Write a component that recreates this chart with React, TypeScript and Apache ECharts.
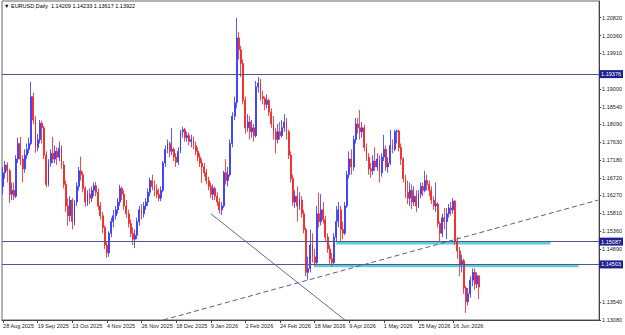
import React, { useEffect, useRef } from "react";
import * as echarts from "echarts";

const symbolTitle = "EURUSD,Daily";
const dateLabels = [
  "28 Aug 2025", "19 Sep 2025", "13 Oct 2025", "4 Nov 2025", "26 Nov 2025",
  "18 Dec 2025", "9 Jan 2026", "2 Feb 2026", "24 Feb 2026", "18 Mar 2026",
  "9 Apr 2026", "1 May 2026", "25 May 2026", "16 Jun 2026",
];
const dateLabelStep = 16;
const totalSlots = 276;
const priceLabels = [
  1.2082, 1.2036, 1.1991, 1.19, 1.1854, 1.1809, 1.1763, 1.1718, 1.1672,
  1.1627, 1.1581, 1.1536, 1.1489, 1.1354, 1.1308,
];
const priceMin = 1.1308;
const priceMax = 1.21248;
const levelLines = [1.19376, 1.15087, 1.14503];
const zones = [
  { from: 154, to: 253, top: 1.15087, bottom: 1.1501 },
  { from: 144, to: 266, top: 1.1451, bottom: 1.1443 },
];
const trendDashed = [[74, 1.1308], [275, 1.1615]];
const trendSolid = [[96, 1.158], [158, 1.1308]];

// [open, high, low, close]
const ohlc = [
  [1.1650, 1.1700, 1.1630, 1.1685], [1.1685, 1.1715, 1.1670, 1.1705], [1.1705, 1.1712, 1.1660, 1.1690],
  [1.1690, 1.1695, 1.1608, 1.1630], [1.1630, 1.1660, 1.1615, 1.1640], [1.1640, 1.1660, 1.1615, 1.1625],
  [1.1625, 1.1730, 1.1620, 1.1720], [1.1720, 1.1775, 1.1710, 1.1760], [1.1760, 1.1777, 1.1705, 1.1720],
  [1.1720, 1.1730, 1.1660, 1.1695], [1.1695, 1.1745, 1.1685, 1.1730], [1.1730, 1.1760, 1.1720, 1.1745],
  [1.1745, 1.1775, 1.1735, 1.1760], [1.1760, 1.1918, 1.1755, 1.1880], [1.1880, 1.1890, 1.1810, 1.1820],
  [1.1820, 1.1830, 1.1736, 1.1750], [1.1750, 1.1785, 1.1740, 1.1770], [1.1770, 1.1820, 1.1760, 1.1812],
  [1.1812, 1.1818, 1.1760, 1.1800], [1.1800, 1.1805, 1.1720, 1.1730], [1.1730, 1.1740, 1.1648, 1.1655],
  [1.1655, 1.1720, 1.1650, 1.1710], [1.1710, 1.1745, 1.1700, 1.1735], [1.1735, 1.1777, 1.1710, 1.1720],
  [1.1720, 1.1755, 1.1710, 1.1740], [1.1740, 1.1750, 1.1705, 1.1725], [1.1725, 1.1765, 1.1715, 1.1748],
  [1.1748, 1.1755, 1.1695, 1.1705], [1.1705, 1.1715, 1.1645, 1.1655], [1.1655, 1.1665, 1.1585, 1.1600],
  [1.1600, 1.1620, 1.1550, 1.1575], [1.1575, 1.1625, 1.1560, 1.1615], [1.1615, 1.1620, 1.1540, 1.1560],
  [1.1560, 1.1615, 1.1550, 1.1610], [1.1610, 1.1660, 1.1600, 1.1650], [1.1650, 1.1700, 1.1640, 1.1690],
  [1.1690, 1.1726, 1.1665, 1.1680], [1.1680, 1.1688, 1.1635, 1.1645], [1.1645, 1.1650, 1.1598, 1.1610],
  [1.1610, 1.1640, 1.1600, 1.1630], [1.1630, 1.1645, 1.1605, 1.1620], [1.1620, 1.1650, 1.1610, 1.1640],
  [1.1640, 1.1660, 1.1625, 1.1652], [1.1652, 1.1662, 1.1625, 1.1635], [1.1635, 1.1645, 1.1590, 1.1600],
  [1.1600, 1.1610, 1.1565, 1.1575], [1.1575, 1.1585, 1.1530, 1.1545], [1.1545, 1.1550, 1.1490, 1.1500],
  [1.1500, 1.1510, 1.1467, 1.1480], [1.1480, 1.1535, 1.1470, 1.1530], [1.1530, 1.1570, 1.1520, 1.1560],
  [1.1560, 1.1590, 1.1545, 1.1575], [1.1575, 1.1600, 1.1565, 1.1590], [1.1590, 1.1620, 1.1580, 1.1610],
  [1.1610, 1.1654, 1.1600, 1.1645], [1.1645, 1.1650, 1.1615, 1.1630], [1.1630, 1.1640, 1.1590, 1.1600],
  [1.1600, 1.1615, 1.1570, 1.1580], [1.1580, 1.1590, 1.1545, 1.1555], [1.1555, 1.1565, 1.1520, 1.1530],
  [1.1530, 1.1545, 1.1500, 1.1515], [1.1515, 1.1540, 1.1492, 1.1525], [1.1525, 1.1570, 1.1515, 1.1560],
  [1.1560, 1.1600, 1.1550, 1.1590], [1.1590, 1.1605, 1.1565, 1.1580], [1.1580, 1.1610, 1.1570, 1.1600],
  [1.1600, 1.1620, 1.1590, 1.1610], [1.1610, 1.1645, 1.1600, 1.1635], [1.1635, 1.1672, 1.1625, 1.1665],
  [1.1665, 1.1680, 1.1640, 1.1650], [1.1650, 1.1665, 1.1625, 1.1640], [1.1640, 1.1655, 1.1620, 1.1630],
  [1.1630, 1.1645, 1.1612, 1.1620], [1.1620, 1.1650, 1.1612, 1.1640], [1.1640, 1.1715, 1.1635, 1.1710],
  [1.1710, 1.1755, 1.1700, 1.1745], [1.1745, 1.1770, 1.1735, 1.1760], [1.1760, 1.1765, 1.1725, 1.1740],
  [1.1740, 1.1800, 1.1730, 1.1745], [1.1745, 1.1750, 1.1715, 1.1725], [1.1725, 1.1735, 1.1700, 1.1712],
  [1.1712, 1.1750, 1.1705, 1.1740], [1.1740, 1.1795, 1.1735, 1.1790], [1.1790, 1.1803, 1.1775, 1.1795],
  [1.1795, 1.1800, 1.1765, 1.1775], [1.1775, 1.1790, 1.1765, 1.1780], [1.1780, 1.1788, 1.1755, 1.1765],
  [1.1765, 1.1782, 1.1750, 1.1770], [1.1770, 1.1778, 1.1745, 1.1755], [1.1755, 1.1765, 1.1730, 1.1740],
  [1.1740, 1.1750, 1.1715, 1.1725], [1.1725, 1.1735, 1.1700, 1.1710], [1.1710, 1.1720, 1.1659, 1.1700],
  [1.1700, 1.1710, 1.1675, 1.1685], [1.1685, 1.1695, 1.1655, 1.1665], [1.1665, 1.1675, 1.1640, 1.1650],
  [1.1650, 1.1660, 1.1620, 1.1630], [1.1630, 1.1655, 1.1615, 1.1645], [1.1645, 1.1650, 1.1615, 1.1625],
  [1.1625, 1.1635, 1.1600, 1.1610], [1.1610, 1.1620, 1.1580, 1.1590], [1.1590, 1.1610, 1.1577, 1.1600],
  [1.1600, 1.1690, 1.1595, 1.1685], [1.1685, 1.1720, 1.1655, 1.1665], [1.1665, 1.1700, 1.1650, 1.1680],
  [1.1680, 1.1770, 1.1675, 1.1760], [1.1760, 1.1840, 1.1750, 1.1830], [1.1830, 1.1880, 1.1820, 1.1865],
  [1.1865, 1.2082, 1.1850, 1.2030], [1.2030, 1.2045, 1.1975, 1.2000], [1.2000, 1.2010, 1.1930, 1.1965],
  [1.1965, 1.1975, 1.1860, 1.1870], [1.1870, 1.1880, 1.1785, 1.1800], [1.1800, 1.1835, 1.1790, 1.1815],
  [1.1815, 1.1830, 1.1770, 1.1790], [1.1790, 1.1820, 1.1775, 1.1800], [1.1800, 1.1810, 1.1765, 1.1780],
  [1.1780, 1.1920, 1.1775, 1.1905], [1.1905, 1.1930, 1.1890, 1.1915], [1.1915, 1.1925, 1.1870, 1.1880],
  [1.1880, 1.1895, 1.1860, 1.1875], [1.1875, 1.1880, 1.1845, 1.1860], [1.1860, 1.1885, 1.1850, 1.1870],
  [1.1870, 1.1875, 1.1830, 1.1840], [1.1840, 1.1850, 1.1800, 1.1810], [1.1810, 1.1830, 1.1770, 1.1790],
  [1.1790, 1.1800, 1.1735, 1.1770], [1.1770, 1.1810, 1.1760, 1.1790], [1.1790, 1.1815, 1.1770, 1.1780],
  [1.1780, 1.1820, 1.1775, 1.1800], [1.1800, 1.1835, 1.1790, 1.1815], [1.1815, 1.1825, 1.1770, 1.1790],
  [1.1790, 1.1795, 1.1720, 1.1730], [1.1730, 1.1740, 1.1660, 1.1670], [1.1670, 1.1680, 1.1600, 1.1610],
  [1.1610, 1.1640, 1.1595, 1.1625], [1.1625, 1.1650, 1.1560, 1.1600], [1.1600, 1.1635, 1.1590, 1.1615],
  [1.1615, 1.1625, 1.1570, 1.1580], [1.1580, 1.1590, 1.1530, 1.1540], [1.1540, 1.1545, 1.1420, 1.1430],
  [1.1430, 1.1470, 1.1411, 1.1440], [1.1440, 1.1540, 1.1430, 1.1500], [1.1500, 1.1530, 1.1455, 1.1470],
  [1.1470, 1.1490, 1.1445, 1.1455], [1.1455, 1.1600, 1.1450, 1.1580], [1.1580, 1.1634, 1.1545, 1.1560],
  [1.1560, 1.1630, 1.1550, 1.1590], [1.1590, 1.1610, 1.1555, 1.1565], [1.1565, 1.1575, 1.1510, 1.1520],
  [1.1520, 1.1530, 1.1480, 1.1490], [1.1490, 1.1500, 1.1452, 1.1465], [1.1465, 1.1480, 1.1445, 1.1455],
  [1.1455, 1.1530, 1.1450, 1.1520], [1.1520, 1.1600, 1.1510, 1.1560], [1.1560, 1.1610, 1.1545, 1.1590],
  [1.1590, 1.1600, 1.1510, 1.1540], [1.1540, 1.1560, 1.1515, 1.1530], [1.1530, 1.1610, 1.1525, 1.1600],
  [1.1600, 1.1690, 1.1595, 1.1680], [1.1680, 1.1740, 1.1670, 1.1720], [1.1720, 1.1745, 1.1680, 1.1700],
  [1.1700, 1.1780, 1.1690, 1.1770], [1.1770, 1.1825, 1.1760, 1.1810], [1.1810, 1.1825, 1.1785, 1.1800],
  [1.1800, 1.1846, 1.1770, 1.1790], [1.1790, 1.1815, 1.1775, 1.1800], [1.1800, 1.1808, 1.1740, 1.1750],
  [1.1750, 1.1760, 1.1715, 1.1725], [1.1725, 1.1735, 1.1680, 1.1695], [1.1695, 1.1710, 1.1672, 1.1690],
  [1.1690, 1.1730, 1.1680, 1.1715], [1.1715, 1.1750, 1.1690, 1.1700], [1.1700, 1.1735, 1.1690, 1.1720],
  [1.1720, 1.1730, 1.1660, 1.1685], [1.1685, 1.1735, 1.1675, 1.1725], [1.1725, 1.1782, 1.1715, 1.1745],
  [1.1745, 1.1755, 1.1690, 1.1700], [1.1700, 1.1725, 1.1685, 1.1710], [1.1710, 1.1795, 1.1705, 1.1755],
  [1.1755, 1.1770, 1.1735, 1.1745], [1.1745, 1.1795, 1.1740, 1.1790], [1.1790, 1.1796, 1.1760, 1.1792],
  [1.1792, 1.1795, 1.1740, 1.1750], [1.1750, 1.1760, 1.1705, 1.1720], [1.1720, 1.1725, 1.1660, 1.1670],
  [1.1670, 1.1680, 1.1620, 1.1635], [1.1635, 1.1665, 1.1605, 1.1620], [1.1620, 1.1660, 1.1600, 1.1640],
  [1.1640, 1.1655, 1.1592, 1.1610], [1.1610, 1.1650, 1.1600, 1.1625], [1.1625, 1.1640, 1.1585, 1.1600],
  [1.1600, 1.1640, 1.1595, 1.1630], [1.1630, 1.1660, 1.1620, 1.1650], [1.1650, 1.1660, 1.1625, 1.1640],
  [1.1640, 1.1690, 1.1635, 1.1665], [1.1665, 1.1680, 1.1640, 1.1655], [1.1655, 1.1665, 1.1625, 1.1640],
  [1.1640, 1.1650, 1.1605, 1.1615], [1.1615, 1.1625, 1.1590, 1.1600], [1.1600, 1.1660, 1.1585, 1.1605],
  [1.1605, 1.1610, 1.1545, 1.1555], [1.1555, 1.1560, 1.1508, 1.1530], [1.1530, 1.1580, 1.1520, 1.1570],
  [1.1570, 1.1595, 1.1540, 1.1560], [1.1560, 1.1595, 1.1515, 1.1580], [1.1580, 1.1605, 1.1570, 1.1595],
  [1.1595, 1.1610, 1.1575, 1.1590], [1.1590, 1.1620, 1.1580, 1.1612], [1.1612, 1.1615, 1.1500, 1.1510],
  [1.1510, 1.1520, 1.1465, 1.1485], [1.1485, 1.1495, 1.1420, 1.1450], [1.1450, 1.1475, 1.1430, 1.1460],
  [1.1460, 1.1465, 1.1375, 1.1390], [1.1390, 1.1395, 1.1326, 1.1355], [1.1355, 1.1390, 1.1345, 1.1375],
  [1.1375, 1.1420, 1.1365, 1.1410], [1.1410, 1.1440, 1.1395, 1.1430], [1.1430, 1.1440, 1.1385, 1.1400],
  [1.1400, 1.1430, 1.1390, 1.1421], [1.14209, 1.14233, 1.13617, 1.13922],
];

const FONT = "Liberation Sans";
const BULL = "#2f2fff";
const BEAR = "#f01c1c";

export default function App() {
  const ref = useRef<HTMLDivElement>(null);
  useEffect(() => {
    if (!ref.current) return;
    const chart = echarts.init(ref.current, undefined, { renderer: "svg" });
    const slots = Array.from({ length: totalSlots }, (_, i) => String(i));
    const candleData = ohlc.map(([o, h, l, c]) => [o, c, l, h]);
    const last = ohlc[ohlc.length - 1];
    const showDate = (i: number) => i % dateLabelStep === 0 && i / dateLabelStep < dateLabels.length;
    const boxLabel = (bg: string) => ({
      show: true,
      position: "end",
      distance: 0,
      formatter: (p: any) => Number(p.value).toFixed(5),
      color: "#fff",
      backgroundColor: bg,
      fontSize: 5.5,
      fontFamily: FONT,
      padding: [1, 2, 1, 2],
    });
    chart.setOption({
      animation: false,
      backgroundColor: "#fff",
      grid: { left: 2, right: 25, top: 1, bottom: 15, show: true, borderColor: "#666", borderWidth: 1 },
      graphic: [
        {
          type: "text",
          left: 4,
          top: 3,
          style: {
            text: `▼ ${symbolTitle}  ${last.map((v) => v.toFixed(5)).join(" ")}`,
            fontSize: 5.5,
            fontFamily: FONT,
            fill: "#000",
          },
        },
      ],
      xAxis: {
        type: "category",
        data: slots,
        boundaryGap: true,
        axisLine: { lineStyle: { color: "#444", width: 1 } },
        axisTick: { show: true, alignWithLabel: true, interval: (i: number) => showDate(i), length: 3, lineStyle: { color: "#444" } },
        axisLabel: {
          interval: (i: number) => showDate(i),
          formatter: (_v: string, i: number) => dateLabels[i / dateLabelStep] ?? "",
          align: "left",
          fontSize: 5.5,
          fontFamily: FONT,
          color: "#222",
          margin: 3,
        },
        splitLine: { show: false },
      },
      yAxis: {
        type: "value",
        position: "right",
        min: priceMin,
        max: priceMax,
        scale: true,
        splitLine: { show: false },
        axisLine: { show: true, lineStyle: { color: "#444" } },
        axisTick: { show: true, customValues: priceLabels, length: 2, lineStyle: { color: "#444" } },
        axisLabel: {
          customValues: priceLabels,
          formatter: (v: number) => v.toFixed(5),
          fontSize: 5.5,
          fontFamily: FONT,
          color: "#222",
          margin: 3,
        },
      },
      series: [
        {
          type: "candlestick",
          data: candleData,
          barWidth: 1.4,
          itemStyle: {
            color: BULL,
            color0: BEAR,
            borderColor: BULL,
            borderColor0: BEAR,
            borderWidth: 0.8,
            opacity: 1,
          },
          markArea: {
            silent: true,
            itemStyle: { color: "#5ccfd6", opacity: 1 },
            data: zones.map((z) => [
              { coord: [z.from, z.top] },
              { coord: [z.to, z.bottom] },
            ]),
          },
          markLine: {
            silent: true,
            symbol: ["none", "none"],
            precision: 5,
            lineStyle: { color: "#54548f", width: 1, type: "solid" },
            data: [
              ...levelLines.map((v) => ({ yAxis: v, label: boxLabel("#20208e") })),
              { yAxis: last[3], lineStyle: { opacity: 0 }, label: boxLabel("#000") },
              [
                { coord: trendDashed[0], lineStyle: { type: [5, 3], color: "#5a5aa8", width: 1 }, label: { show: false } },
                { coord: trendDashed[1] },
              ],
              [
                { coord: trendSolid[0], lineStyle: { type: "solid", color: "#6a6aa0", width: 1 }, label: { show: false } },
                { coord: trendSolid[1] },
              ],
            ],
          },
        },
      ],
    });
    return () => chart.dispose();
  }, []);
  return <div ref={ref} style={{ position: "fixed", left: 0, top: 0, width: 625, height: 335 }} />;
}
